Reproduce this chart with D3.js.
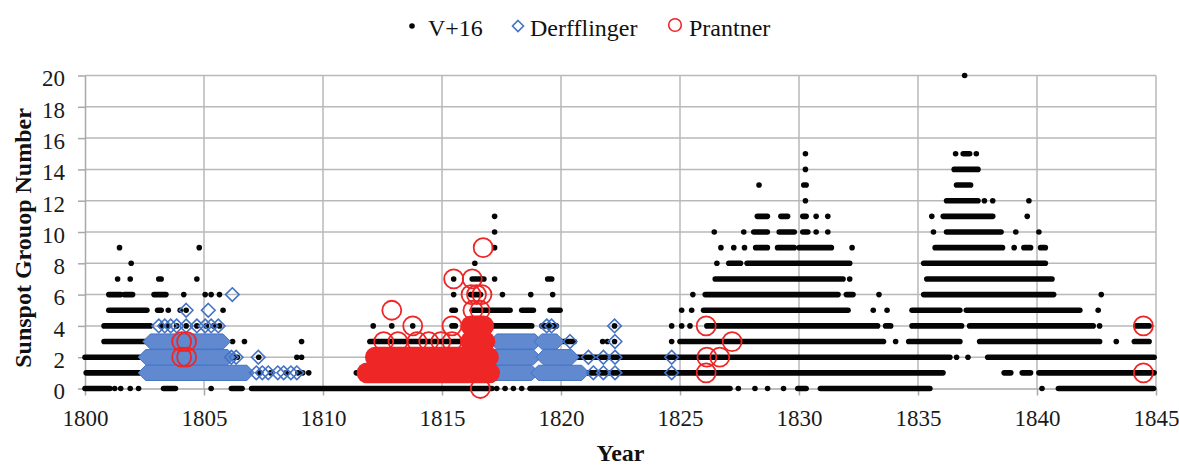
<!DOCTYPE html>
<html><head><meta charset="utf-8">
<script src="https://cdn.jsdelivr.net/npm/d3@7"></script>
<style>
body{margin:0;background:#fff}
svg{display:block}
</style>
</head><body>
<svg id="c" width="1179" height="466"></svg>
<script>
// ---------------- DATA ----------------
const xTicks = [1800,1805,1810,1815,1820,1825,1830,1835,1840,1845];
const yTicks = [0,2,4,6,8,10,12,14,16,18,20];
const seriesNames = ["V+16","Derfflinger","Prantner"];
const xTitle = "Year";
const yTitle = "Sunspot Grouop Number";

// V+16: dense runs of daily values [level, fromYear, toYear]
const v16Runs = [
 [0,1800.0,1801.05],[0,1803.3,1803.8],[0,1806.15,1806.6],[0,1807.0,1817.1],[0,1818.7,1827.1],[0,1829.95,1830.3],[0,1830.9,1835.5],[0,1840.9,1844.9],
 [1,1800.05,1806.8],[1,1811.4,1836.05],[1,1838.62,1838.9],[1,1839.38,1839.73],[1,1840.08,1844.92],
 [2,1800.0,1806.4],[2,1812.0,1836.34],[2,1837.93,1844.92],
 [3,1800.8,1805.8],[3,1811.97,1820.56],[3,1825.0,1833.55],[3,1834.61,1836.76],[3,1837.59,1842.63],[3,1844.09,1844.71],
 [4,1800.8,1802.75],[4,1815.42,1815.56],[4,1816.13,1818.77],[4,1819.2,1819.8],[4,1826.13,1833.3],[4,1833.64,1833.85],[4,1834.75,1836.83],[4,1837.17,1842.36],[4,1844.16,1844.71],
 [5,1801.0,1802.6],[5,1803.05,1803.2],[5,1815.42,1815.56],[5,1816.27,1817.86],[5,1818.35,1818.84],[5,1819.54,1819.96],[5,1825.99,1832.06],[5,1834.75,1836.76],[5,1837.03,1841.8],
 [6,1801.0,1801.5],[6,1801.65,1802.0],[6,1802.9,1803.4],[6,1816.2,1816.62],[6,1826.06,1831.64],[6,1831.99,1832.27],[6,1835.24,1840.7],
 [7,1803.1,1803.2],[7,1816.27,1816.76],[7,1819.44,1819.61],[7,1826.48,1831.85],[7,1835.37,1840.63],
 [8,1827.05,1827.54],[8,1827.82,1832.13],[8,1835.24,1840.35],
 [9,1828.18,1828.67],[9,1829.1,1829.8],[9,1830.01,1831.36],[9,1835.72,1838.55],[9,1839.45,1839.73],[9,1840.15,1840.35],
 [10,1828.1,1828.67],[10,1829.17,1829.8],[10,1830.16,1830.37],[10,1836.2,1838.49],
 [11,1828.25,1828.67],[11,1829.24,1829.52],[11,1830.16,1830.3],[11,1836.06,1838.14],
 [12,1836.2,1837.52],
 [13,1830.2,1830.3],[13,1836.62,1837.21],
 [14,1836.52,1837.52],
 [15,1836.9,1837.17]
];
// V+16: isolated values [year, level]
const v16Dots = [
 [1801.25,0],[1801.5,0],[1801.9,0],[1802.25,0],[1805.3,0],[1817.3,0],[1817.65,0],[1818.0,0],[1818.35,0],[1827.45,0],[1828.15,0],[1828.68,0],[1829.35,0],[1840.21,0],
 [1807.35,1],[1807.8,1],[1808.45,1],[1808.95,1],[1809.15,1],[1809.4,1],
 [1807.3,2],[1808.9,2],[1809.1,2],[1836.62,2],[1837.1,2],
 [1806.2,3],[1806.7,3],[1809.1,3],[1821.75,3],[1821.95,3],[1822.25,3],[1824.65,3],[1834.06,3],[1843.33,3],
 [1803.2,4],[1803.5,4],[1803.85,4],[1804.25,4],[1804.7,4],[1805.1,4],[1805.4,4],[1805.65,4],[1812.11,4],[1812.89,4],[1813.77,4],[1822.25,4],[1824.65,4],[1825.07,4],[1825.42,4],[1842.63,4],
 [1803.5,5],[1804.0,5],[1804.25,5],[1805.8,5],[1825.07,5],[1825.49,5],[1833.12,5],[1833.7,5],[1842.57,5],
 [1804.15,6],[1805.05,6],[1805.3,6],[1805.65,6],[1815.49,6],[1817.54,6],[1818.73,6],[1819.65,6],[1825.54,6],[1833.36,6],[1842.7,6],
 [1801.37,7],[1801.9,7],[1804.7,7],[1815.49,7],[1817.21,7],[1832.13,7],
 [1801.94,8],[1816.38,8],[1826.55,8],
 [1801.45,9],[1804.8,9],[1817.21,9],[1826.72,9],[1827.26,9],[1827.71,9],[1832.23,9],[1839.04,9],
 [1817.21,10],[1826.44,10],[1827.68,10],[1830.72,10],[1831.21,10],[1835.65,10],[1839.11,10],[1840.08,10],
 [1817.21,11],[1830.72,11],[1831.21,11],[1835.58,11],[1839.59,11],
 [1830.27,12],[1837.79,12],[1838.14,12],[1839.66,12],
 [1828.32,13],
 [1830.27,14],
 [1830.27,15],[1836.58,15],[1837.45,15],
 [1836.96,20]
];
// Derfflinger: dense runs [level, fromYear, toYear]
const derfRuns = [
 [1,1802.55,1806.8],[2,1802.55,1806.0],[3,1802.75,1805.8],
 [1,1817.16,1818.77],[1,1819.05,1820.87],
 [2,1817.16,1818.84],[2,1819.26,1820.45],
 [3,1817.3,1818.91],[3,1819.19,1819.82]
];
// Derfflinger: isolated values [year, level]
const derfPoints = [
 [1806.19,6],[1804.25,5],[1805.18,5],
 [1803.1,4],[1803.35,4],[1803.6,4],[1803.85,4],[1804.25,4],[1804.7,4],[1805.05,4],[1805.3,4],[1805.6,4],
 [1806.15,2],[1806.35,2],[1807.28,2],
 [1807.2,1],[1807.45,1],[1807.7,1],[1808.1,1],[1808.35,1],[1808.65,1],[1808.9,1],
 [1811.98,1],[1812.85,1],[1813.55,1],[1814.45,1],[1816.6,1],[1813.2,2],[1813.95,2],[1814.7,2],[1816.6,2],[1816.55,3],[1816.48,4],
 [1819.4,4],[1819.6,4],[1822.25,4],[1820.38,3],[1822.27,3],[1821.15,2],[1821.78,2],[1822.27,2],[1824.65,2],
 [1821.36,1],[1821.78,1],[1822.27,1],[1824.65,1]
];
// Prantner: dense runs [level, fromYear, toYear]
const prantRuns = [
 [1,1811.85,1817.0],[2,1812.2,1816.95],[3,1816.2,1816.8],[4,1816.22,1816.75]
];
// Prantner: isolated values [year, level]
const prantPoints = [
 [1804.06,3],[1804.27,3],[1804.06,2],[1804.27,2],
 [1812.89,5],[1813.77,4],[1812.55,3],[1813.15,3],[1813.95,3],[1814.44,3],[1814.95,3],[1815.42,3],[1815.42,4],
 [1815.49,7],[1816.27,7],[1816.73,9],[1816.22,6],[1816.45,6],[1816.68,6],[1816.3,5],[1816.6,5],[1816.61,0],
 [1826.1,4],[1826.13,2],[1826.67,2],[1827.19,3],[1826.1,1],
 [1844.47,4],[1844.47,1]
];

// ---------------- DRAW ----------------
const FONT='"Liberation Serif"';
const BLACK="#050505", BLUE="#4472c4", BLUEFILL="#6089cf", RED="#ee2626", GRID="#b9b9b9", AXIS="#a8a8a8";
const svg = d3.select("#c");
const x = d3.scaleLinear().domain([1800,1845]).range([85,1156]);
const y = d3.scaleLinear().domain([0,20]).range([388.5,75.5]);

// gridlines
svg.append("g").selectAll("line").data(yTicks.filter(d=>d>0)).join("line")
  .attr("x1",x(1800)).attr("x2",x(1845)).attr("y1",d=>y(d)).attr("y2",d=>y(d))
  .attr("stroke",GRID).attr("stroke-width",1.5);
svg.append("g").selectAll("line").data(xTicks.filter(d=>d>1800)).join("line")
  .attr("x1",d=>x(d)).attr("x2",d=>x(d)).attr("y1",y(0)).attr("y2",y(20))
  .attr("stroke",GRID).attr("stroke-width",1.5);

// axes
const gy = svg.append("g").attr("transform",`translate(${x(1800)},0)`)
  .call(d3.axisLeft(y).tickValues(yTicks).tickSize(7).tickSizeOuter(0).tickPadding(13));
const gx = svg.append("g").attr("transform",`translate(0,${y(0)})`)
  .call(d3.axisBottom(x).tickValues(xTicks).tickFormat(d3.format("d")).tickSize(7).tickSizeOuter(0).tickPadding(14));
[gx,gy].forEach(g=>{
  g.attr("font-family",null).attr("font-size",null);
  g.select(".domain").attr("stroke",AXIS).attr("stroke-width",1.5);
  g.selectAll(".tick line").attr("stroke",AXIS).attr("stroke-width",1.5);
  g.selectAll(".tick text").attr("fill","#1a1a1a").style("font-family",FONT).style("font-size","23px");
});
gy.selectAll(".tick text").attr("dy","0.45em");

// V+16
const gV = svg.append("g");
gV.selectAll("line").data(v16Runs).join("line")
  .attr("x1",d=>x(d[1])).attr("x2",d=>x(d[2])).attr("y1",d=>y(d[0])).attr("y2",d=>y(d[0]))
  .attr("stroke",BLACK).attr("stroke-width",5.6).attr("stroke-linecap","round");
gV.selectAll("circle").data(v16Dots).join("circle")
  .attr("cx",d=>x(d[0])).attr("cy",d=>y(d[1])).attr("r",2.8).attr("fill",BLACK);

// Derfflinger
const H=6.8;
const diamond = h=>`M0,${-h}L${h},0L0,${h}L${-h},0Z`;
const gD = svg.append("g");
gD.selectAll("path.run").data(derfRuns).join("path").attr("class","run")
  .attr("d",d=>{const a=x(d[1]),b=x(d[2]),c=y(d[0]),h=H+0.8;
    return `M${a-h},${c}L${a},${c-h}L${b},${c-h}L${b+h},${c}L${b},${c+h}L${a},${c+h}Z`;})
  .attr("fill",BLUEFILL).attr("stroke",BLUE).attr("stroke-width",1);
gD.selectAll("path.pt").data(derfPoints).join("path").attr("class","pt")
  .attr("transform",d=>`translate(${x(d[0])},${y(d[1])})`).attr("d",diamond(H))
  .attr("fill","none").attr("stroke",BLUE).attr("stroke-width",1.6);

// Prantner
const R=9.5;
const gP = svg.append("g");
gP.selectAll("line").data(prantRuns).join("line")
  .attr("x1",d=>x(d[1])).attr("x2",d=>x(d[2])).attr("y1",d=>y(d[0])).attr("y2",d=>y(d[0]))
  .attr("stroke",RED).attr("stroke-width",2*R+1.8).attr("stroke-linecap","round");
gP.selectAll("circle").data(prantPoints).join("circle")
  .attr("cx",d=>x(d[0])).attr("cy",d=>y(d[1])).attr("r",R)
  .attr("fill","none").attr("stroke",RED).attr("stroke-width",1.8);

// titles
svg.append("text").attr("x",(x(1800)+x(1845))/2).attr("y",461).attr("text-anchor","middle")
  .style("font-family",FONT).style("font-size","24px").style("font-weight","bold").attr("fill","#111").text(xTitle);
svg.append("text").attr("transform",`translate(31,${(y(0)+y(20))/2+6}) rotate(-90)`).attr("text-anchor","middle")
  .style("font-family",FONT).style("font-size","24px").style("font-weight","bold").attr("fill","#111").text(yTitle);

// legend
const lg = svg.append("g").attr("fill","#111");
lg.append("circle").attr("cx",412).attr("cy",26).attr("r",2.8).attr("fill",BLACK);
lg.append("text").attr("x",428).attr("y",36).style("font-family",FONT).style("font-size","24px").text(seriesNames[0]);
lg.append("path").attr("transform","translate(518,26)").attr("d",diamond(5.5)).attr("fill","none").attr("stroke",BLUE).attr("stroke-width",1.6);
lg.append("text").attr("x",530).attr("y",36).style("font-family",FONT).style("font-size","24px").text(seriesNames[1]);
lg.append("circle").attr("cx",675).attr("cy",25).attr("r",6.3).attr("fill","none").attr("stroke",RED).attr("stroke-width",1.6);
lg.append("text").attr("x",689).attr("y",36).style("font-family",FONT).style("font-size","24px").text(seriesNames[2]);
</script>
</body></html>
